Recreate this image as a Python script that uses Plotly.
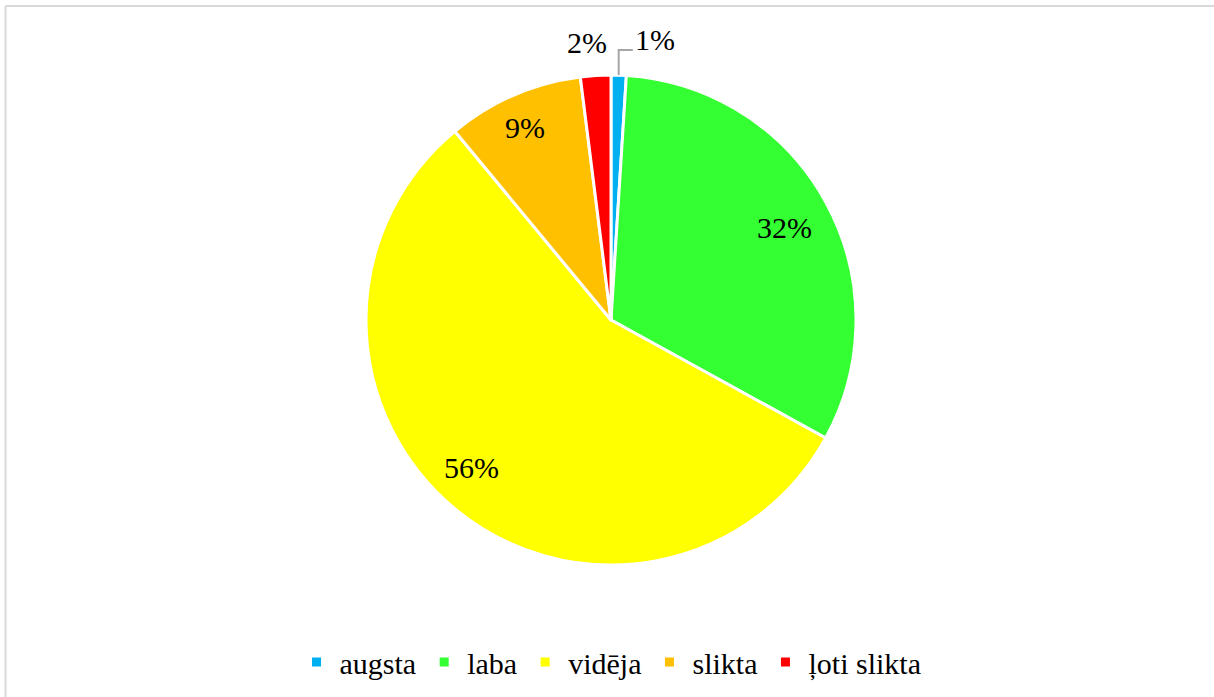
import math
import plotly.graph_objects as go

# ---- data ----
categories = ["augsta", "laba", "vidēja", "slikta", "ļoti slikta"]
values = [1, 32, 56, 9, 2]
colors = ["#00B0F0", "#33FF33", "#FFFF00", "#FFC000", "#FF0000"]

# ---- label placement (radius as fraction of pie radius, angle nudge in degrees) ----
label_r = [1.157, 0.803, 0.830, 0.860, 1.135]
label_dang = [-7.1, -0.9, -3.7, 0.7, 1.25]

W, H = 1214, 697
CX, CY, R = 611, 320, 245  # pixel geometry of the pie
FONT = "Liberation Serif"

dom_x = [(CX - R) / W, (CX + R) / W]
dom_y = [1 - (CY + R) / H, 1 - (CY - R) / H]

fig = go.Figure(
    go.Pie(
        labels=categories,
        values=values,
        sort=False,
        direction="clockwise",
        rotation=0,
        marker=dict(colors=colors, line=dict(color="white", width=3)),
        textinfo="none",
        domain=dict(x=dom_x, y=dom_y),
        hoverinfo="label+percent",
    )
)

total = sum(values)
start = 90.0
annotations = []
shapes = []
for i, v in enumerate(values):
    span = 360.0 * v / total
    mid = start - span / 2
    start -= span
    pct = f"{round(100 * v / total)}%"
    ang = math.radians(mid + label_dang[i])
    px = CX + label_r[i] * R * math.cos(ang)
    py = CY - label_r[i] * R * math.sin(ang)
    annotations.append(
        dict(
            x=px / W, y=1 - py / H, xref="paper", yref="paper",
            text=pct, showarrow=False,
            font=dict(family=FONT, size=30, color="black"),
            xanchor="center", yanchor="middle",
        )
    )
    if i == 0:
        # leader line from the slice edge up and right to the label
        m = math.radians(mid)
        ex = CX + R * math.cos(m)
        ey = CY - R * math.sin(m)
        ky = ey - 25
        kx2 = px - 22
        shapes.append(
            dict(
                type="path", xref="paper", yref="paper",
                path=f"M {ex / W},{1 - ey / H} L {ex / W},{1 - ky / H} L {kx2 / W},{1 - ky / H}",
                line=dict(color="#A6A6A6", width=2),
            )
        )

# chart frame (top and left edges visible)
shapes.append(dict(type="line", xref="paper", yref="paper", x0=5.5 / W, x1=1.0, y0=1 - 6 / H, y1=1 - 6 / H,
                   line=dict(color="#D9D9D9", width=2)))
shapes.append(dict(type="line", xref="paper", yref="paper", x0=5.5 / W, x1=5.5 / W, y0=1 - 6 / H, y1=0,
                   line=dict(color="#D9D9D9", width=2)))

fig.update_layout(
    width=W,
    height=H,
    margin=dict(l=0, r=0, t=0, b=0),
    paper_bgcolor="white",
    plot_bgcolor="white",
    font=dict(family=FONT, size=30, color="black"),
    showlegend=True,
    legend=dict(
        orientation="h",
        x=0.5025, xanchor="center",
        y=1 - 662 / H, yanchor="middle",
        font=dict(family=FONT, size=30, color="black"),
        itemwidth=36,
        itemclick=False,
    ),
    annotations=annotations,
    shapes=shapes,
)

fig.write_html(
    "out.html",
    config={"displayModeBar": False},
    post_script="document.body.style.margin='0';document.body.style.overflow='hidden';",
)
